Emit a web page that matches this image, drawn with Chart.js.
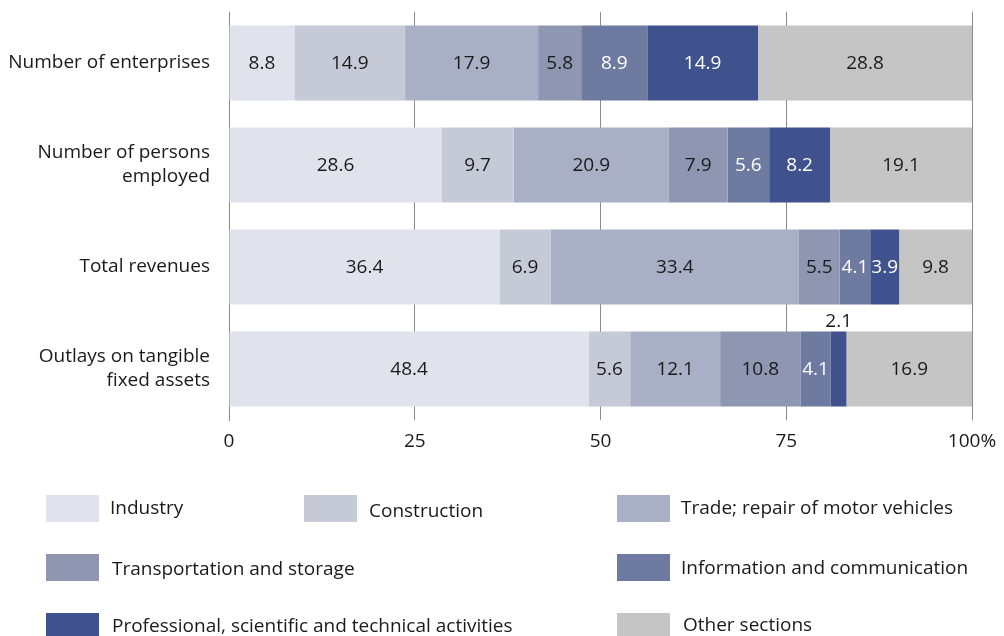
<!DOCTYPE html>
<html><head><meta charset="utf-8">
<script src="https://cdn.jsdelivr.net/npm/chart.js@4"></script>
<style>html,body{margin:0;padding:0;background:#fff}#wrap{position:relative;width:1004px;height:636px}</style>
</head><body><div id="wrap"><canvas id="c" width="1004" height="636"></canvas></div>
<script>
const categories = [['Number of enterprises'], ['Number of persons', 'employed'], ['Total revenues'], ['Outlays on tangible', 'fixed assets']];
const seriesNames = ['Industry', 'Construction', 'Trade; repair of motor vehicles', 'Transportation and storage', 'Information and communication', 'Professional, scientific and technical activities', 'Other sections'];
const industry = [8.8, 28.6, 36.4, 48.4];
const construction = [14.9, 9.7, 6.9, 5.6];
const trade = [17.9, 20.9, 33.4, 12.1];
const transport = [5.8, 7.9, 5.5, 10.8];
const infoComm = [8.9, 5.6, 4.1, 4.1];
const professional = [14.9, 8.2, 3.9, 2.1];
const other = [28.8, 19.1, 9.8, 16.9];
const xTickLabels = ['0', '25', '50', '75', '100%'];

const seriesValues = [industry, construction, trade, transport, infoComm, professional, other];
const colors = ['#E0E3EC', '#C6CAD7', '#A9AFC4', '#8E96B2', '#6E7A9F', '#3F528D', '#C5C5C5'];
const labelColors = ['#1a1a1a', '#1a1a1a', '#1a1a1a', '#1a1a1a', '#ffffff', '#ffffff', '#1a1a1a'];
const FONT = "'Open Sans', sans-serif";
const TXT = '#1a1a1a';
const GRID = '#8a8a8a';

// legend layout: box position, text position (x, vertical center)
const legendLayout = [
  {bx: 46, by: 495, tx: 110, ty: 509},
  {bx: 304, by: 495, tx: 369, ty: 512},
  {bx: 617, by: 495, tx: 681, ty: 509},
  {bx: 46, by: 554, tx: 112, ty: 570},
  {bx: 617, by: 554, tx: 681, ty: 569},
  {bx: 46, by: 613, tx: 112, ty: 627},
  {bx: 617, by: 613, tx: 683, ty: 626}
];

const valueLabels = {
  id: 'valueLabels',
  afterDatasetsDraw(chart) {
    const ctx = chart.ctx;
    ctx.save();
    ctx.font = '19px ' + FONT;
    ctx.textAlign = 'center';
    ctx.textBaseline = 'middle';
    chart.data.datasets.forEach((ds, di) => {
      const meta = chart.getDatasetMeta(di);
      meta.data.forEach((el, i) => {
        const v = ds.data[i];
        const txt = v.toFixed(1);
        const cx = (el.x + el.base) / 2;
        const w = Math.abs(el.x - el.base);
        if (w < 20) {
          ctx.fillStyle = TXT;
          ctx.fillText(txt, cx, el.y - el.height / 2 - 10);
        } else {
          ctx.fillStyle = labelColors[di];
          ctx.fillText(txt, cx, el.y + 1);
        }
      });
    });
    ctx.restore();
  }
};

const customLegend = {
  id: 'customLegend',
  afterDraw(chart) {
    const ctx = chart.ctx;
    ctx.save();
    ctx.font = '19px ' + FONT;
    ctx.textAlign = 'left';
    ctx.textBaseline = 'middle';
    chart.data.datasets.forEach((ds, i) => {
      const L = legendLayout[i];
      ctx.fillStyle = ds.backgroundColor;
      ctx.fillRect(L.bx, L.by, 53, 27);
      ctx.fillStyle = TXT;
      ctx.fillText(ds.label, L.tx, L.ty);
    });
    ctx.restore();
  }
};

new Chart(document.getElementById('c'), {
  type: 'bar',
  data: {
    labels: categories,
    datasets: seriesValues.map((vals, i) => ({
      label: seriesNames[i],
      data: vals,
      backgroundColor: colors[i],
      borderWidth: 0,
      barPercentage: 1,
      categoryPercentage: 0.735
    }))
  },
  options: {
    indexAxis: 'y',
    responsive: false,
    animation: false,
    devicePixelRatio: 1,
    layout: {padding: {top: 12, right: 32, left: 0, bottom: 0}},
    plugins: {legend: {display: false}, tooltip: {enabled: false}, title: {display: false}},
    scales: {
      x: {
        stacked: true,
        min: 0, max: 100,
        afterFit(s) { s.height = 216; s.paddingLeft = 0; s.paddingRight = 0; },
        afterBuildTicks(s) { s.ticks = xTickLabels.map((t, i) => ({value: i * 25})); },
        ticks: {
          callback: (v, i) => xTickLabels[i],
          font: {family: FONT, size: 19},
          color: TXT,
          padding: 10,
          maxRotation: 0,
          autoSkip: false
        },
        grid: {color: GRID, lineWidth: 1, drawTicks: false, tickLength: 0},
        border: {display: false}
      },
      y: {
        stacked: true,
        afterFit(s) { s.width = 229; s.paddingTop = 0; s.paddingBottom = 0; },
        ticks: {
          font: {family: FONT, size: 19, lineHeight: 1.26},
          color: TXT,
          padding: 19
        },
        grid: {display: false, drawTicks: false},
        border: {display: true, color: GRID, width: 1}
      }
    }
  },
  plugins: [valueLabels, customLegend]
});
</script>
</body></html>
